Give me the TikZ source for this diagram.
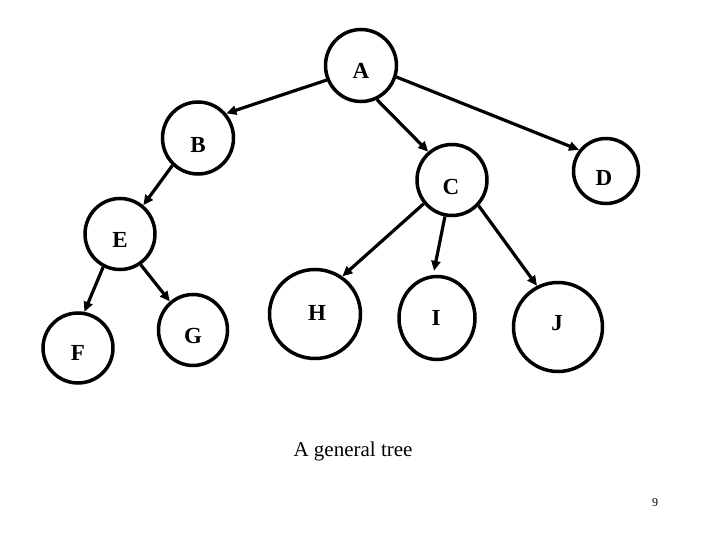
\documentclass[tikz,border=0pt]{standalone}
\usepackage{fontspec}
\setmainfont{Liberation Serif}
\usetikzlibrary{shapes.geometric,arrows.meta}
\begin{document}
\begin{tikzpicture}[x=1pt,y=-1pt,
  vtx/.style={draw,ellipse,line width=3.5pt,inner sep=0pt},
  lbl/.style={inner sep=0pt,font=\bfseries\fontsize{23}{23}\selectfont},
  edge/.style={line width=3.2pt,-{Triangle[length=10pt,width=9pt]}}]
\useasboundingbox (0,0) rectangle (720,540);
\node[vtx,minimum width=71pt,minimum height=72pt] (A) at (361,65.5) {};
\node[vtx,minimum width=71pt,minimum height=72pt] (B) at (198,138) {};
\node[vtx,minimum width=70pt,minimum height=71pt] (C) at (452,180) {};
\node[vtx,minimum width=65pt,minimum height=65pt] (D) at (606,171) {};
\node[vtx,minimum width=70pt,minimum height=71pt] (E) at (120,234) {};
\node[vtx,minimum width=70pt,minimum height=70pt] (F) at (78,348) {};
\node[vtx,minimum width=69pt,minimum height=71pt] (G) at (193,330) {};
\node[vtx,minimum width=91pt,minimum height=89pt] (H) at (315,314) {};
\node[vtx,minimum width=76pt,minimum height=83pt] (I) at (437,318) {};
\node[vtx,minimum width=89pt,minimum height=89pt] (J) at (558,327) {};
\node[lbl] (Al) at (361,71) {A};
\node[lbl] (Bl) at (198,145) {B};
\node[lbl] (Cl) at (451,187) {C};
\node[lbl] (Dl) at (604,178) {D};
\node[lbl] (El) at (120,240) {E};
\node[lbl] (Fl) at (78,353) {F};
\node[lbl] (Gl) at (193,336) {G};
\node[lbl] (Hl) at (317,313) {H};
\node[lbl] (Il) at (436,318) {I};
\node[lbl] (Jl) at (557,323) {J};
\draw[edge] (A.203) -- (B.41);
\draw[edge] (A.-65) -- (C.130);
\draw[edge] (A.-18) -- (D.142);
\draw[edge] (B.227) -- (E.51);
\draw[edge] (C.220) -- (H.54);
\draw[edge] (C.259) -- ([yshift=4pt]I.94);
\draw[edge] (C.-44) -- (J.117);
\draw[edge] (E.243) -- (F.80);
\draw[edge] (E.-56) -- (G.129);
\node[font=\fontsize{21}{24}\selectfont,inner sep=0pt] (cap) at (353,451) {A general tree};
\node[font=\fontsize{12}{14}\selectfont,inner sep=0pt] (pg) at (655,503) {9};
\end{tikzpicture}
\end{document}
